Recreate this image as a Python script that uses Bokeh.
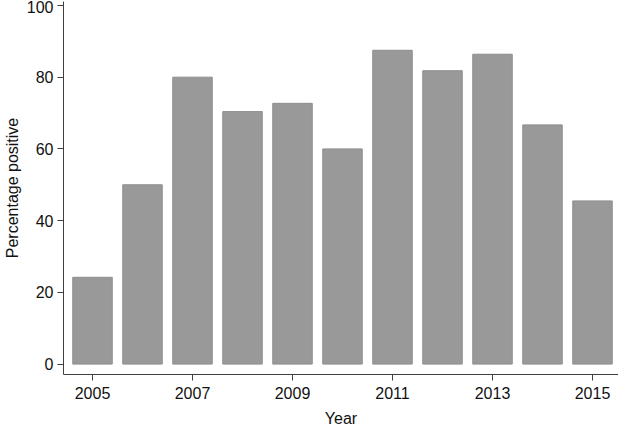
from bokeh.plotting import figure
from bokeh.models import FixedTicker, Range1d
from bokeh.embed import file_html
from bokeh.resources import INLINE

years = [2005, 2006, 2007, 2008, 2009, 2010, 2011, 2012, 2013, 2014, 2015]
percent_positive = [24.2, 50.0, 80.0, 70.4, 72.7, 60.0, 87.5, 81.8, 86.4, 66.7, 45.5]
x_ticks = [2005, 2007, 2009, 2011, 2013, 2015]
y_ticks = [0, 20, 40, 60, 80, 100]

p = figure(frame_width=555, frame_height=373, output_backend="svg", toolbar_location=None,
           x_range=Range1d(2004.42, 2015.52), y_range=Range1d(-2.9, 101.1),
           min_border_left=59, min_border_right=0, min_border_top=1, min_border_bottom=57)
p.vbar(x=years, top=percent_positive, width=0.79, bottom=0,
       fill_color="#999999", line_color="#8e8e8e", line_width=1)

p.outline_line_color = None
p.xgrid.visible = False
p.ygrid.visible = False

for ax in (p.xaxis[0], p.yaxis[0]):
    ax.axis_line_color = "#404040"
    ax.major_tick_line_color = "#404040"
    ax.major_tick_out = 6
    ax.major_tick_in = 0
    ax.minor_tick_line_color = None
    ax.major_label_text_font = "Liberation Sans"
    ax.major_label_text_font_size = "16px"
    ax.major_label_text_color = "#111111"
    ax.axis_label_text_font = "Liberation Sans"
    ax.axis_label_text_font_size = "16px"
    ax.axis_label_text_font_style = "normal"
    ax.axis_label_text_color = "#111111"

p.xaxis.ticker = FixedTicker(ticks=x_ticks)
p.yaxis.ticker = FixedTicker(ticks=y_ticks)
p.xaxis.axis_label = "Year"
p.yaxis.axis_label = "Percentage positive"
p.xaxis.major_label_standoff = 6
p.yaxis.major_label_standoff = 4
p.xaxis.axis_label_standoff = 8
p.yaxis.axis_label_standoff = 3

open("out.html", "w").write(file_html(p, INLINE))
